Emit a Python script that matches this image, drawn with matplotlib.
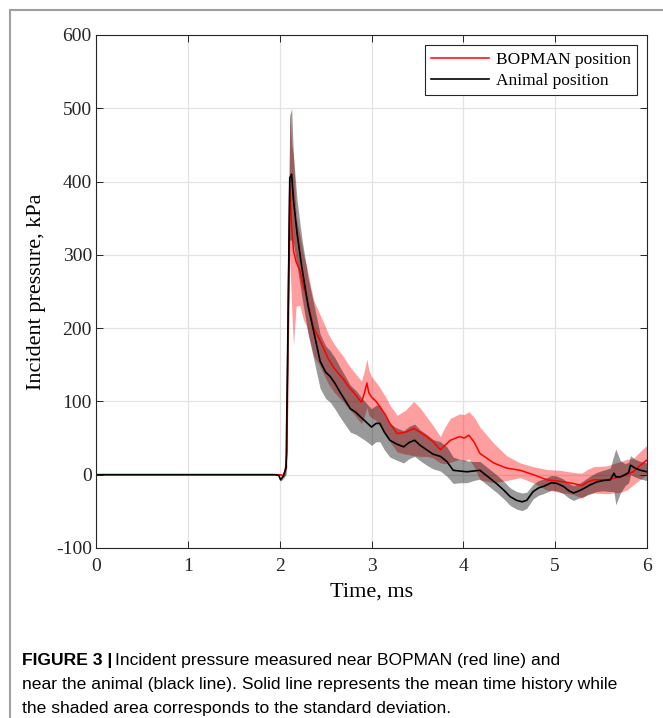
import matplotlib
matplotlib.use("Agg")
import matplotlib.pyplot as plt
import numpy as np
from matplotlib.patches import Rectangle

plt.rcParams['axes.unicode_minus'] = False
plt.rcParams['font.family'] = ['Liberation Serif', 'DejaVu Serif']

# BOPMAN position (red): time in ms, mean and std in kPa
t_bop = [0, 1.95, 2.00, 2.04, 2.06, 2.08, 2.09, 2.11, 2.13, 2.15, 2.18, 2.22,
         2.26, 2.29, 2.33, 2.37, 2.42, 2.48, 2.53, 2.59, 2.64, 2.69, 2.75, 2.80,
         2.85, 2.89, 2.92, 2.95, 2.97, 3.00, 3.05, 3.09, 3.15, 3.20, 3.28, 3.37,
         3.46, 3.53, 3.60, 3.67, 3.75, 3.80, 3.86, 3.96, 4.01, 4.06, 4.12, 4.18,
         4.33, 4.47, 4.62, 4.76, 4.91, 5.05, 5.20, 5.29, 5.35, 5.42, 5.56, 5.71,
         5.78, 5.85, 5.92, 6.00]
p_bop = [0, 0, 0, -1, 5, 30, 200, 395, 340, 306, 290, 279,
         255, 245, 222, 200, 188, 172, 158, 146, 138, 131, 120, 113,
         105, 99, 110, 125, 112, 106, 100, 93, 82, 70, 56, 58,
         63, 58, 52, 45, 34, 40, 47, 52, 50, 54, 44, 29,
         16, 9, 6, 0, -7, -9, -12, -15, -10, -7, -7, -3,
         0, 4, 12, 20]
s_bop = [0, 0, 1, 2, 5, 20, 80, 100, 110, 130, 60, 48,
         44, 42, 40, 38, 36, 35, 34, 33, 32, 31, 30, 29,
         29, 29, 31, 33, 31, 28, 26, 26, 25, 25, 25, 30,
         37, 33, 27, 22, 18, 25, 30, 31, 32, 32, 34, 36,
         27, 17, 10, 11, 14, 15, 15, 17, 17, 18, 19, 21,
         21, 18, 19, 20]

# Animal position (black)
t_ani = [0, 1.95, 1.99, 2.01, 2.04, 2.07, 2.09, 2.11, 2.13, 2.15, 2.19, 2.24,
         2.31, 2.38, 2.44, 2.50, 2.55, 2.60, 2.66, 2.72, 2.77, 2.83, 2.88, 2.94,
         3.00, 3.05, 3.09, 3.14, 3.20, 3.27, 3.35, 3.41, 3.47, 3.53, 3.60, 3.67,
         3.75, 3.82, 3.89, 3.96, 4.04, 4.11, 4.18, 4.29, 4.36, 4.44, 4.51, 4.58,
         4.64, 4.69, 4.76, 4.82, 4.87, 4.96, 5.02, 5.09, 5.15, 5.20, 5.26, 5.31,
         5.38, 5.45, 5.52, 5.60, 5.64, 5.66, 5.71, 5.76, 5.80, 5.82, 5.87, 5.93,
         6.00]
p_ani = [0, 0, -1, -7, -2, 10, 200, 405, 410, 375, 329, 284,
         230, 190, 155, 140, 134, 125, 112, 100, 90, 85, 79, 72,
         65, 70, 70, 58, 47, 42, 38, 44, 47, 40, 34, 28,
         25, 18, 6, 5, 4, 5, 6, -5, -12, -21, -30, -35,
         -37, -35, -23, -18, -16, -11, -12, -16, -22, -25, -22, -19,
         -14, -10, -8, -7, 2, -3, -3, 0, 3, 13, 9, 6,
         4]
s_ani = [0, 0, 1, 2, 3, 10, 60, 85, 90, 60, 45, 40,
         38, 38, 37, 36, 35, 35, 34, 33, 32, 30, 28, 26,
         25, 25, 25, 24, 23, 22, 22, 22, 22, 21, 21, 20,
         20, 20, 18, 16, 15, 13, 12, 12, 12, 12, 12, 12,
         12, 11, 10, 10, 10, 10, 10, 10, 10, 10, 10, 11,
         12, 13, 14, 16, 25, 38, 22, 15, 14, 13, 12, 12,
         12]

t_bop, p_bop, s_bop = np.array(t_bop), np.array(p_bop), np.array(s_bop)
t_ani, p_ani, s_ani = np.array(t_ani), np.array(p_ani), np.array(s_ani)

fig = plt.figure(figsize=(6.63, 7.18), dpi=100)
ax = fig.add_axes([0.1448, 0.2368, 0.8311, 0.7145])

ax.fill_between(t_bop, p_bop - s_bop, p_bop + s_bop, color='red', alpha=0.38, lw=0)
ax.fill_between(t_ani, p_ani - s_ani, p_ani + s_ani, color='black', alpha=0.4, lw=0)
ax.plot(t_bop, p_bop, color='red', lw=1.1, label='BOPMAN position')
ax.plot(t_ani, p_ani, color='black', lw=1.2, label='Animal position')

ax.set_xlim(0, 6)
ax.set_ylim(-100, 600)
ax.set_xticks(np.arange(0, 7, 1))
ax.set_yticks(np.arange(-100, 700, 100))
ax.grid(True, color='#e3e3e3', lw=0.9)
ax.set_axisbelow(True)
ax.tick_params(direction='in', top=True, right=True, labelsize=14,
               colors='#262626', length=5, width=0.7)
ax.tick_params(axis='x', pad=7)
ax.tick_params(axis='y', pad=3)
for sp in ax.spines.values():
    sp.set_color('#262626')
    sp.set_linewidth(0.8)
ax.set_xlabel('Time, ms', fontsize=16, labelpad=6)
ax.set_ylabel('Incident pressure, kPa', fontsize=16, labelpad=7)

leg = ax.legend(loc='upper right', fontsize=12.5, fancybox=False, framealpha=1,
                edgecolor='#262626', handlelength=3.3, borderpad=0.35,
                labelspacing=0.3, handletextpad=0.4, borderaxespad=0.6)
leg.get_frame().set_linewidth(0.8)

# outer frame of the figure panel
fig.patches.append(Rectangle((10 / 663, -0.05), 1.2, 1 - 10 / 718 + 0.05,
                             transform=fig.transFigure, fill=False,
                             edgecolor='#a0a0a0', lw=1.5))

cap_font = ['Liberation Sans Narrow', 'Liberation Sans', 'DejaVu Sans']
x0 = 22 / 663
t1 = fig.text(x0, 1 - 661 / 718, 'FIGURE 3 |', fontsize=12.6, fontweight='bold',
              family=cap_font, va='center')
fig.canvas.draw()
bb = t1.get_window_extent(fig.canvas.get_renderer())
fig.text((bb.x1 + 3) / 663, 1 - 661 / 718,
         'Incident pressure measured near BOPMAN (red line) and',
         fontsize=12.6, family=cap_font, va='center')
fig.text(x0, 1 - 685 / 718,
         'near the animal (black line). Solid line represents the mean time history while',
         fontsize=12.6, family=cap_font, va='center')
fig.text(x0, 1 - 708 / 718,
         'the shaded area corresponds to the standard deviation.',
         fontsize=12.6, family=cap_font, va='center')

fig.savefig('out.png', dpi=100)
